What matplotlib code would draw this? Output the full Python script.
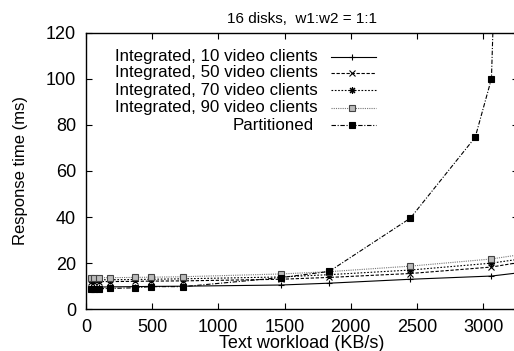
import matplotlib.pyplot as plt
import numpy as np

plt.rcParams['font.family'] = ['Liberation Sans', 'DejaVu Sans']

# Text workload (KB/s) at each measured point
workload = [36.75, 61.25, 98, 183.75, 367.5, 490, 735, 1470, 1837.5, 2450, 3062.5, 3430]
# Response times (ms) for the integrated server
int_10 = [9.6, 9.6, 9.6, 9.7, 9.8, 9.9, 10.0, 10.5, 11.3, 13.0, 14.4, 16.9]
int_50 = [12.0, 12.0, 12.0, 12.0, 12.1, 12.2, 12.3, 13.0, 13.8, 15.5, 18.3, 21.8]
int_70 = [12.8, 12.8, 12.8, 12.8, 12.9, 13.0, 13.2, 14.0, 15.0, 17.0, 20.0, 23.0]
int_90 = [13.7, 13.7, 13.7, 13.7, 13.8, 13.9, 14.1, 15.3, 16.3, 18.7, 21.8, 25.0]
# Partitioned server
part_x = [36.75, 61.25, 98, 183.75, 367.5, 490, 735, 1470, 1837.5, 2450, 2940, 3062.5, 3185]
part_y = [8.9, 8.9, 8.9, 9.0, 9.3, 9.8, 9.8, 13.7, 16.4, 39.5, 74.6, 100.0, 330.0]

labels = ['Integrated, 10 video clients', 'Integrated, 50 video clients',
          'Integrated, 70 video clients', 'Integrated, 90 video clients',
          'Partitioned']

fig = plt.figure(figsize=(5.14, 3.51), dpi=100)
ax = fig.add_axes([0.167, 0.119, 0.840, 0.788])

styles = [
    dict(ls='-', marker='+', color='black', ms=5, mfc='black', mec='black'),
    dict(ls=(0, (3, 1.5)), marker='x', color='black', ms=4, mfc='black', mec='black'),
    dict(ls=(0, (1.5, 1.5)), marker=(8, 2, 0), color='black', ms=5, mfc='black', mec='black'),
    dict(ls=(0, (1, 1)), marker='s', color='#777777', ms=4.5, mfc='#bbbbbb', mec='#444444'),
    dict(ls=(0, (4, 1.5, 1, 1.5)), marker='s', color='black', ms=4.5, mfc='black', mec='black'),
]
series = [(workload, int_10), (workload, int_50), (workload, int_70),
          (workload, int_90), (part_x, part_y)]

for (xs, ys), st in zip(series, styles):
    ax.plot(xs, ys, lw=0.8, mew=0.8, **st)

# legend drawn gnuplot-style: right-aligned text, sample to the right
row_y = [0.913, 0.855, 0.792, 0.728, 0.665]
for lab, st, yy in zip(labels, styles, row_y):
    tx = 0.5375 if lab != 'Partitioned' else 0.528
    ax.text(tx, yy, lab, transform=ax.transAxes, ha='right', va='center', fontsize=12.2)
    ax.plot([0.568, 0.672], [yy, yy], transform=ax.transAxes, lw=0.8,
            ls=st['ls'], color=st['color'], clip_on=False)
    ax.plot([0.616], [yy], transform=ax.transAxes, ls='none', marker=st['marker'],
            ms=st['ms'], mfc=st['mfc'], mec=st['mec'], mew=0.8, clip_on=False)

ax.set_xlim(0, 3260)
ax.set_ylim(0, 120)
ax.set_xticks(np.arange(0, 3001, 500))
ax.set_yticks(np.arange(0, 121, 20))
ax.tick_params(direction='in', length=4, width=0.8, top=True, right=True,
               labelsize=13, pad=7)
for sp in ax.spines.values():
    sp.set_linewidth(1.0)

ax.set_title('16 disks,  w1:w2 = 1:1', fontsize=11, pad=7)
ax.set_xlabel('Text workload (KB/s)', fontsize=13, labelpad=-1)
ax.set_ylabel('Response time (ms)', fontsize=12, labelpad=13)

fig.savefig('out.png', dpi=100)
